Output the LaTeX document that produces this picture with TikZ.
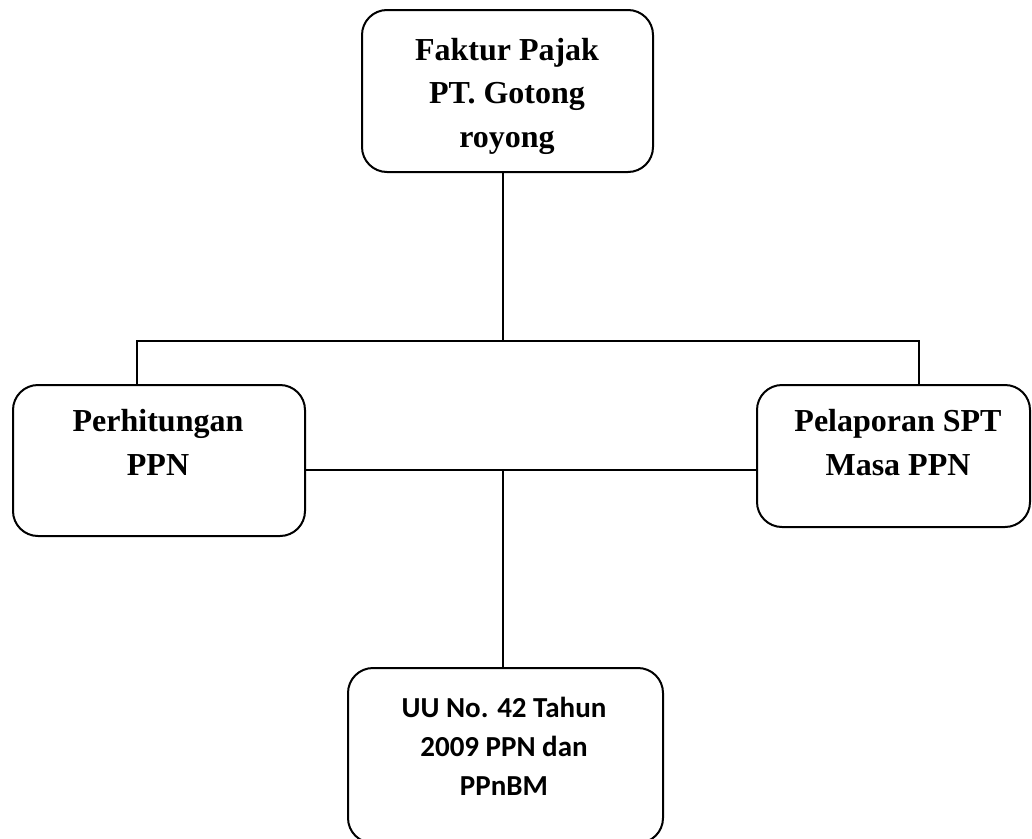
\documentclass[tikz,border=0pt]{standalone}
\usepackage{fontspec}
\setmainfont{Liberation Serif}
\newfontfamily\calfont{Carlito}
\begin{document}
\begin{tikzpicture}[x=1pt,y=-1pt,
  box/.style={draw=black,line width=2pt,rounded corners=25pt,inner sep=0pt,fill=none},
  seriftxt/.style={align=center,inner sep=0pt,font=\fontsize{32}{43.5}\selectfont\bfseries},
  sanstxt/.style={align=center,inner sep=0pt,font=\calfont\fontsize{29}{39}\selectfont\bfseries},
  link/.style={draw=black,line width=2pt}]
\useasboundingbox (0,0) rectangle (1032,838);
% boxes
\node[box,minimum width=291pt,minimum height=162pt] (top) at (507.5,91) {};
\node[box,minimum width=292pt,minimum height=151pt] (left) at (159,460.5) {};
\node[box,minimum width=273pt,minimum height=142pt] (right) at (893.5,456) {};
\node[box,minimum width=315pt,minimum height=175pt] (bottom) at (505.5,755.5) {};
% texts
\node[seriftxt] (ttop) at (507,96) {Faktur Pajak\\PT. Gotong\\royong};
\node[seriftxt] (tleft) at (158,442.5) {Perhitungan\\PPN};
\node[seriftxt] (tright) at (898,442.5) {Pelaporan SPT\\Masa PPN};
\node[sanstxt] (tbottom) at (504,746) {UU No. 42 Tahun\\2009 PPN dan\\PPnBM};
% junctions
\coordinate (j1) at (503,341);
\coordinate (lj) at (137,341);
\coordinate (rj) at (919,341);
\coordinate (j2) at (503,470);
% connectors
\draw[link] (top.south -| j1) -- (j1);
\draw[link] (left.north -| lj) -- (lj) -- (rj) -- (right.north -| rj);
\draw[link] (left.east |- j2) -- (right.west |- j2);
\draw[link] (j2) -- (bottom.north -| j2);
\end{tikzpicture}
\end{document}
